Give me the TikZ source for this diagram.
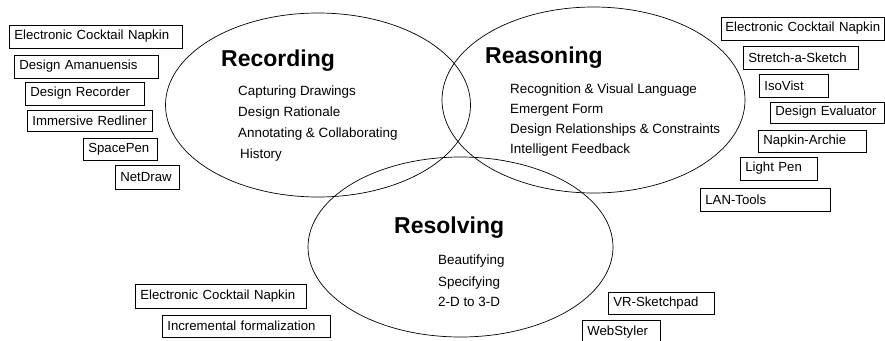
\documentclass[tikz,border=0pt]{standalone}
\usepackage{fontspec}
\setmainfont{Liberation Sans}
\usetikzlibrary{shapes.geometric}
\begin{document}
\begin{tikzpicture}[x=1pt,y=-1pt,
  tool/.style={draw, line width=0.7pt, rectangle, inner xsep=5pt, inner ysep=0pt,
    align=left, anchor=west, minimum height=23pt,
    font=\fontsize{13.2}{15}\selectfont},
  ell/.style={draw, line width=0.7pt, ellipse, inner sep=0pt},
  heading/.style={anchor=base west, inner sep=0pt, font=\fontsize{23}{27}\selectfont\bfseries},
  topic/.style={anchor=base west, inner sep=0pt, font=\fontsize{13.4}{15}\selectfont}]
\clip (0,0) rectangle (885,340);
\fill[white] (0,0) rectangle (885,340);
% ellipses
\node[ell, minimum width=305pt, minimum height=184pt] (rec) at (318,105) {};
\node[ell, minimum width=303pt, minimum height=186pt] (rea) at (593.5,100) {};
\node[ell, minimum width=305pt, minimum height=180pt] (res) at (460.5,247) {};
% Recording
\node[heading] (rect) at (221,66) {Recording};
\node[topic] (rec1) at (238,95) {Capturing Drawings};
\node[topic] (rec2) at (238,116) {Design Rationale};
\node[topic] (rec3) at (238,137) {Annotating \& Collaborating};
\node[topic] (rec4) at (240,158) {History};
% Reasoning
\node[heading] (reat) at (485,63) {Reasoning};
\node[topic] (rea1) at (510,93) {Recognition \& Visual Language};
\node[topic] (rea2) at (510,113) {Emergent Form};
\node[topic] (rea3) at (510,133) {Design Relationships \& Constraints};
\node[topic] (rea4) at (510,153) {Intelligent Feedback};
% Resolving
\node[heading] (rest) at (394,233) {Resolving};
\node[topic] (res1) at (438,264) {Beautifying};
\node[topic] (res2) at (438,286) {Specifying};
\node[topic] (res3) at (438,306) {2-D to 3-D};
% left boxes
\node[tool, text width=163pt] (l1) at (9,36.5) {\mbox{Electronic Cocktail Napkin}};
\node[tool, text width=134pt] (l2) at (14,66.5) {\mbox{Design Amanuensis}};
\node[tool, text width=109pt] (l3) at (25,93.5) {\mbox{Design Recorder}};
\node[tool, text width=115pt, minimum height=21pt] (l4) at (27,120.5) {\mbox{Immersive Redliner}};
\node[tool, text width=64pt, minimum height=22pt] (l5) at (83,149) {\mbox{SpacePen}};
\node[tool, text width=54pt, minimum height=24pt] (l6) at (115,177) {\mbox{NetDraw}};
% right boxes
\node[tool, text width=155pt, inner xsep=4pt] (r1) at (721,28.5) {\mbox{Electronic Cocktail Napkin}};
\node[tool, text width=105pt] (r2) at (743,57.5) {\mbox{Stretch-a-Sketch}};
\node[tool, text width=59pt] (r3) at (759,85.5) {\mbox{IsoVist}};
\node[tool, text width=104pt, minimum height=21pt] (r4) at (770,112.5) {\mbox{Design Evaluator}};
\node[tool, text width=98pt, minimum height=22pt] (r5) at (758,141) {\mbox{Napkin-Archie}};
\node[tool, text width=67pt] (r6) at (740,168.5) {\mbox{Light Pen}};
\node[tool, text width=120pt] (r7) at (700,199.5) {\mbox{LAN-Tools}};
% bottom boxes
\node[tool, text width=161pt, minimum height=24pt] (b1) at (135,296) {\mbox{Electronic Cocktail Napkin}};
\node[tool, text width=158pt, minimum height=22pt] (b2) at (162,326) {\mbox{Incremental formalization}};
\node[tool, text width=96pt, minimum height=22pt] (b3) at (608,303) {\mbox{VR-Sketchpad}};
\node[tool, text width=68pt, minimum height=25pt] (b4) at (582,332.5) {\mbox{WebStyler}};
\end{tikzpicture}
\end{document}
